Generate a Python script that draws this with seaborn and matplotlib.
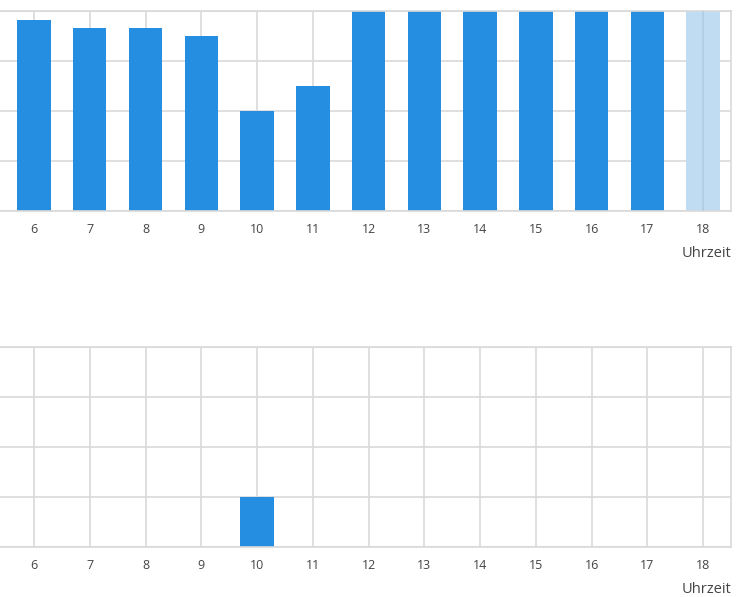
import pandas as pd
import seaborn as sns
import matplotlib.pyplot as plt

# Daten
hours = [6, 7, 8, 9, 10, 11, 12, 13, 14, 15, 16, 17, 18]
top_values = [3.83, 3.67, 3.67, 3.5, 2.0, 2.5, 4, 4, 4, 4, 4, 4, 4]
bottom_values = [0, 0, 0, 0, 1, 0, 0, 0, 0, 0, 0, 0, 0]
current_hour = 18

blue = '#268ee0'
light_blue = '#bfdcf3'
grid_col = '#d9d9d9'

sns.set_style("white")
plt.rcParams['font.family'] = ['Open Sans', 'DejaVu Sans']

fig = plt.figure(figsize=(7.38, 5.97), dpi=100)
ax1 = fig.add_axes([0, 1 - 211/597, 731/738, 200/597])
ax2 = fig.add_axes([0, 1 - 547/597, 731/738, 200/597])

palette = {str(h): (light_blue if h == current_hour else blue) for h in hours}

for ax, vals in [(ax1, top_values), (ax2, bottom_values)]:
    df = pd.DataFrame({'Uhrzeit': [str(h) for h in hours], 'Wert': vals})
    sns.barplot(data=df, x='Uhrzeit', y='Wert', hue='Uhrzeit', palette=palette,
                width=0.6, legend=False, saturation=1, ax=ax, zorder=2,
                linewidth=0)
    ax.set_xlim(-0.61, 12.5)
    ax.set_ylim(0, 4)
    ax.set_yticks([0, 1, 2, 3, 4])
    ax.set_yticklabels([])
    ax.tick_params(axis='y', length=0)
    ax.tick_params(axis='x', length=5, color=grid_col, labelsize=9,
                   labelcolor='#444444', pad=3.5)
    ax.grid(True, color=grid_col, linewidth=1.2, zorder=0)
    ax.set_axisbelow(True)
    for s in ['top', 'right', 'bottom']:
        ax.spines[s].set_color(grid_col)
        ax.spines[s].set_linewidth(1.2)
    ax.spines['left'].set_visible(False)
    ax.set_ylabel('')
    ax.set_xlabel('Uhrzeit', fontsize=10.5, color='#444444', loc='right', labelpad=7)

# Gitterlinie durch den hellen Balken sichtbar lassen
ax1.axvline(len(hours) - 1, color='#a9c3d8', linewidth=1.2, zorder=3, alpha=0.6)

plt.savefig('out.png', dpi=100)
